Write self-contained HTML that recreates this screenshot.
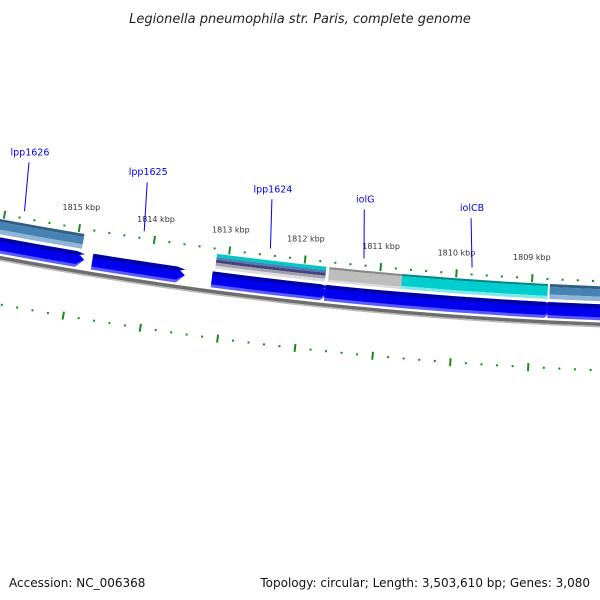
<!DOCTYPE html>
<html><head><meta charset="utf-8"><style>
html,body{margin:0;padding:0;background:#fff;}
svg{display:block;font-family:"DejaVu Sans","Liberation Sans",sans-serif;}
</style></head><body>
<svg id="map" width="600" height="600" viewBox="0 0 600 600" xmlns="http://www.w3.org/2000/svg">
<text x="300" y="23" text-anchor="middle" font-size="13" font-style="italic" fill="#222">Legionella pneumophila str. Paris, complete genome</text>
<g id="layer"></g>
<text x="9" y="587" font-size="12" fill="#111">Accession: NC_006368</text>
<text x="590" y="587" text-anchor="end" font-size="12" fill="#111">Topology: circular; Length: 3,503,610 bp; Genes: 3,080</text>
</svg>
<script>
// data
const forwardGeneStarts = [1822000, 1814763, 1813184, 1811697, 1810737, 1808776];
const forwardGeneEnds   = [1814974, 1813645, 1811750, 1810737, 1808816, 1800000];
const cogStarts = [1822000, 1813158, 1811671, 1810710, 1808763];
const cogEnds   = [1814921, 1811711, 1810710, 1808789, 1800000];
const cogColors = ['steel', 'multi', 'gray', 'cyan', 'steel'];
const tickKbp = [1815, 1814, 1813, 1812, 1811, 1810, 1809];
const geneLabels = ['lpp1626', 'lpp1625', 'lpp1624', 'iolG', 'iolCB'];
const geneLabelBp = [1815750, 1814150, 1812470, 1811230, 1809800];

const NS = 'http://www.w3.org/2000/svg';
const layer = document.getElementById('layer');
const CX = 750, CY = -3764, R0 = 4091;
function R(d) { return R0 - d; }          // d = height above backbone
const RT = R(42);
const th0 = Math.asin((305 - CX) / RT);
const k = 76 / RT / 1000;
function theta(bp) { return th0 - (bp - 1812000) * k; }
function pt(th, d) { const r = R(d); return [CX + r * Math.sin(th), CY + r * Math.cos(th)]; }
function mk(tag, attrs) { const e = document.createElementNS(NS, tag); for (const a in attrs) e.setAttribute(a, attrs[a]); layer.appendChild(e); return e; }
function band(t1, t2, dlo, dhi, arrow) {
  const a = pt(t1, dhi), b = pt(t2, dhi), c = pt(t2, dlo), d = pt(t1, dlo);
  const rh = R(dhi), rl = R(dlo);
  let s = `M${a[0]},${a[1]} A${rh},${rh} 0 0 0 ${b[0]},${b[1]} `;
  if (arrow) { const tip = pt(t2 + 8 / rl, (dlo + dhi) / 2); s += `L${tip[0]},${tip[1]} `; }
  s += `L${c[0]},${c[1]} A${rl},${rl} 0 0 1 ${d[0]},${d[1]} Z`;
  return s;
}
function arcPath(t1, t2, d) { const a = pt(t1, d), b = pt(t2, d), r = R(d); return `M${a[0]},${a[1]} A${r},${r} 0 0 0 ${b[0]},${b[1]}`; }
const tL = Math.asin((-20 - CX) / R0), tR = Math.asin((620 - CX) / R0);

// backbone
let e = mk('path', { d: arcPath(tL, tR, 0), stroke: '#6e6e6e', 'stroke-width': 3.5, fill: 'none' });


e = mk('path', { d: arcPath(tL, tR, -2.5), stroke: '#bbbbbb', 'stroke-width': 1.5, fill: 'none' });



// forward genes (arrows)
for (let i = 0; i < forwardGeneStarts.length; i++) {
  const t1 = theta(forwardGeneStarts[i]), t2 = theta(forwardGeneEnds[i]);
  const g = document.createElementNS(NS, 'g'); layer.appendChild(g);
  
  
  const parts = [[4, 20, '#5a5aff'], [7, 18, '#0000ee'], [16, 20, '#0000a8']];
  parts.forEach(p => { const q = document.createElementNS(NS, 'path'); q.setAttribute('d', band(t1, t2, p[0], p[1], true)); q.setAttribute('fill', p[2]); g.appendChild(q); });
}

// COG track
const palettes = {
  steel: [['#2f5f86', 0.8], ['#4682b4', 0.3], ['#8fb6d6', 0]],
  gray: [['#888', 0.85], ['#bdbdbd', 0.15], ['#dcdcdc', 0]],
  cyan: [['#008b8b', 0.85], ['#00cdcd', 0.2], ['#7fe8e8', 0]],
  multi: [['#00c8c8', 0.78], ['#4682b4', 0.6], ['#48407a', 0.4], ['#a0a0b0', 0.2], ['#dddddd', 0]]
};
for (let i = 0; i < cogStarts.length; i++) {
  const t1 = theta(cogStarts[i]), t2 = theta(cogEnds[i]);
  const g = document.createElementNS(NS, 'g'); layer.appendChild(g);
  
  
  const pal = palettes[cogColors[i]];
  const db = 23, dt = 38;
  let prevTop = dt;
  pal.forEach(([col, f]) => {
    const dlo = db + (dt - db) * f;
    const q = document.createElementNS(NS, 'path');
    q.setAttribute('d', band(t1, t2, dlo, prevTop, false));
    q.setAttribute('fill', col); g.appendChild(q);
    prevTop = dlo;
  });
}

// upper ticks
for (let bp = 1808000; bp <= 1817000; bp += 200) {
  const t = theta(bp); const major = bp % 1000 === 0;
  const a = pt(t, 43 - (major ? 4 : 1)), b = pt(t, 43 + (major ? 4 : 1));
  const l = mk('line', { x1: a[0], y1: a[1], x2: b[0], y2: b[1], stroke: '#1a8a1a', 'stroke-width': 2 });
  
  
}
tickKbp.forEach(kb => {
  const p = pt(theta(kb * 1000 + 20), 64);
  const t = mk('text', { x: p[0], y: p[1] + 3, 'text-anchor': 'middle', 'font-size': 8, fill: '#333' });
  t.textContent = kb + ' kbp';
  
  
});

// lower (inner) ticks
const DL = -46, RL = R(DL), kL = 78 / RL / 1000, thL0 = Math.asin((295 - CX) / RL);
for (let bp = 1807000; bp <= 1817000; bp += 200) {
  const t = thL0 - (bp - 1812000) * kL; const major = bp % 1000 === 0;
  const a = pt(t, DL - (major ? 4 : 1)), b = pt(t, DL + (major ? 4 : 1));
  const l = mk('line', { x1: a[0], y1: a[1], x2: b[0], y2: b[1], stroke: '#1a8a1a', 'stroke-width': 2 });
  
  
}

// gene labels
geneLabels.forEach((name, i) => {
  const t = theta(geneLabelBp[i]);
  const a = pt(t, 50), b = pt(t - 0.0011, 99);
  const l = mk('line', { x1: a[0], y1: a[1], x2: b[0], y2: b[1], stroke: '#0000ee', 'stroke-width': 1 });
  
  
  const tx = mk('text', { x: b[0] + 1, y: b[1] - 7, 'text-anchor': 'middle', 'font-size': 9.5, fill: '#0000ee' });
  tx.textContent = name;
  
  
});
</script>
</body></html>
